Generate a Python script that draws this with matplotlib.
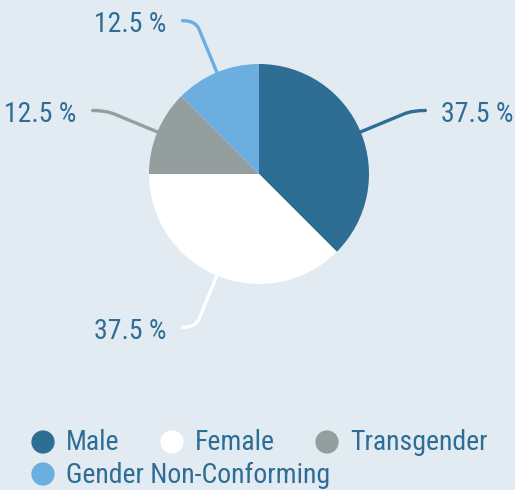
import numpy as np
import matplotlib.pyplot as plt
from matplotlib.path import Path
from matplotlib.patches import PathPatch
from matplotlib import font_manager

names = {f.name for f in font_manager.fontManager.ttflist}
fam = 'Roboto Condensed' if 'Roboto Condensed' in names else 'Roboto'
plt.rcParams['font.family'] = [fam, 'DejaVu Sans']
fs = 20 if fam == 'Roboto Condensed' else 17.5

# data
labels = ['Male', 'Female', 'Transgender', 'Gender Non-Conforming']
shares = [37.5, 37.5, 12.5, 12.5]
colors = ['#2e6e94', '#ffffff', '#949e9e', '#6caee0']

bg = '#e2eaf2'
txt = '#2e6e94'

fig = plt.figure(figsize=(5.15, 4.9), dpi=100, facecolor=bg)
ax = fig.add_axes([0, 0, 1, 1])
ax.set_facecolor(bg)

cx, cy, R = 259, 316, 110
wedges, _ = ax.pie(shares, colors=colors, startangle=90, counterclock=False,
                   center=(cx, cy), radius=R, frame=True,
                   wedgeprops=dict(linewidth=0))
ax.set_xlim(0, 515)
ax.set_ylim(0, 490)
ax.set_aspect('equal')
ax.axis('off')

# leader lines + percentage labels
for w, val, col in zip(wedges, shares, colors):
    ang = np.deg2rad((w.theta1 + w.theta2) / 2)
    c, s = np.cos(ang), np.sin(ang)
    sign = 1 if c >= 0 else -1
    p0 = (cx + R * c, cy + R * s)
    p1 = (cx + 157 * c, cy + 157 * s)
    elbow = (cx + 166 * c, cy + 166 * s)
    p2 = (elbow[0] + sign * 13, elbow[1])
    path = Path([p0, p1, elbow, p2],
                [Path.MOVETO, Path.LINETO, Path.CURVE3, Path.CURVE3])
    ax.add_patch(PathPatch(path, fill=False, edgecolor=col, lw=2.4,
                           capstyle='round'))
    ax.text(p2[0] + sign * 16, p2[1] - 4, f'{val:g} %', color=txt,
            fontsize=fs, ha='left' if sign > 0 else 'right', va='center')

# legend (flowing layout)
leg_pos = [(43, 48), (172, 48), (327, 48), (43, 16)]
for (lx, ly), lab, col in zip(leg_pos, labels, colors):
    ax.scatter([lx], [ly], s=280, color=col, edgecolors='none')
    ax.text(lx + 23, ly - 1, lab, color=txt, fontsize=fs,
            ha='left', va='center')

fig.savefig('out.png', dpi=100, facecolor=bg)
